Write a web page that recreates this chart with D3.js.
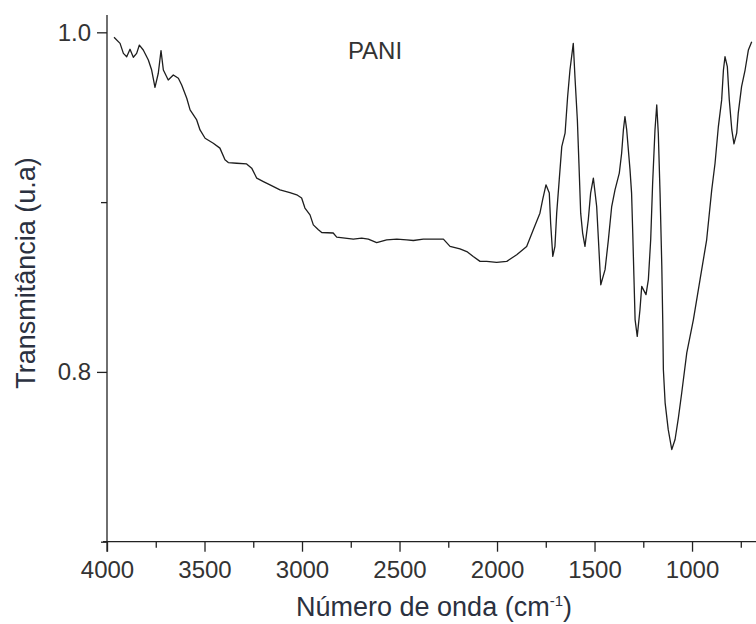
<!DOCTYPE html>
<html>
<head>
<meta charset="utf-8">
<script src="https://cdn.jsdelivr.net/npm/d3@7/dist/d3.min.js"></script>
<style>
  html, body { margin: 0; padding: 0; background: #fff; }
  svg { display: block; }
  text { font-family: "Liberation Sans", Arial, sans-serif; }
</style>
</head>
<body>
<svg id="chart" width="756" height="624"></svg>
<script>
// Wavenumber (cm^-1)
const wavenumber = [3964,3933,3916,3899,3882,3865,3848,3834,3814,3788,3771,3754,3737,3723,3711,3686,3660,3634,3617,3591,3574,3540,3523,3497,3455,3421,3395,3378,3335,3284,3258,3232,3198,3164,3113,3062,3027,3002,2985,2959,2942,2916,2899,2840,2822,2737,2694,2660,2617,2566,2514,2463,2429,2378,2275,2241,2190,2155,2122,2087,2053,2002,1950,1899,1848,1814,1780,1766,1749,1732,1725,1714,1703,1694,1681,1668,1651,1638,1626,1609,1600,1588,1580,1571,1561,1549,1532,1520,1506,1489,1480,1468,1446,1429,1412,1395,1373,1361,1352,1344,1335,1318,1310,1304,1298,1292,1281,1267,1258,1236,1224,1212,1202,1190,1181,1173,1164,1155,1150,1147,1138,1122,1104,1087,1070,1053,1027,993,959,925,899,882,865,848,839,831,819,809,796,785,771,763,746,728,711,694];
// Transmittance (u.a)
const transmittance = [0.9971,0.9935,0.9876,0.9856,0.9900,0.9853,0.9876,0.9925,0.9896,0.9837,0.9778,0.9676,0.9759,0.9892,0.9778,0.9719,0.9749,0.9729,0.9690,0.9612,0.9543,0.9484,0.9425,0.9376,0.9347,0.9318,0.9249,0.9233,0.9229,0.9225,0.9200,0.9141,0.9121,0.9102,0.9072,0.9056,0.9043,0.9024,0.8965,0.8925,0.8866,0.8837,0.8821,0.8818,0.8794,0.8782,0.8788,0.8782,0.8762,0.8778,0.8782,0.8778,0.8774,0.8782,0.8782,0.8739,0.8724,0.8709,0.8680,0.8651,0.8651,0.8645,0.8651,0.8690,0.8739,0.8837,0.8935,0.9014,0.9102,0.9053,0.8876,0.8680,0.8739,0.8935,0.9131,0.9327,0.9406,0.9621,0.9778,0.9935,0.9729,0.9484,0.9229,0.8935,0.8818,0.8739,0.8896,0.9053,0.9141,0.8974,0.8778,0.8513,0.8602,0.8778,0.8974,0.9072,0.9171,0.9288,0.9425,0.9504,0.9425,0.9190,0.9053,0.8818,0.8562,0.8308,0.8209,0.8366,0.8504,0.8455,0.8543,0.8778,0.9112,0.9425,0.9572,0.9406,0.9053,0.8621,0.8288,0.8014,0.7818,0.7660,0.7543,0.7602,0.7729,0.7876,0.8112,0.8308,0.8543,0.8778,0.9072,0.9229,0.9445,0.9602,0.9778,0.9856,0.9798,0.9602,0.9425,0.9343,0.9406,0.9524,0.9680,0.9778,0.9896,0.9945];

const xMajorTicks = [4000,3500,3000,2500,2000,1500,1000];
const xMinorTicks = [3750,3250,2750,2250,1750,1250,750];
const yMajorTicks = [1.0,0.8];
const yMinorTicks = [0.9,0.7];
const seriesLabel = "PANI";
const xTitle = "Número de onda (cm";
const xTitleSup = "-1";
const yTitle = "Transmitância (u.a)";

const svg = d3.select("#chart");
const x = d3.scaleLinear().domain([4000, 672]).range([107, 756]);
const y = d3.scaleLinear().domain([0.7, 1.0102]).range([541.7, 15]);

const axisColor = "#222";
const textColor = "#333";

// x axis
const gx = svg.append("g").attr("transform", `translate(0,${y(0.7)})`);
gx.call(d3.axisBottom(x).tickValues(xMajorTicks).tickSize(10).tickPadding(9).tickFormat(d3.format("d")));
gx.select(".domain").remove();
const gxm = svg.append("g").attr("transform", `translate(0,${y(0.7)})`);
gxm.call(d3.axisBottom(x).tickValues(xMinorTicks).tickSize(6).tickFormat(""));
gxm.select(".domain").remove();
svg.append("line").attr("x1", 103).attr("x2", 756).attr("y1", y(0.7)).attr("y2", y(0.7))
   .attr("stroke", axisColor).attr("stroke-width", 1.3);

// y axis
const gy = svg.append("g").attr("transform", `translate(${x(4000)},0)`);
gy.call(d3.axisLeft(y).tickValues(yMajorTicks).tickSize(10).tickPadding(6).tickFormat(d3.format(".1f")));
gy.select(".domain").remove();
const gym = svg.append("g").attr("transform", `translate(${x(4000)},0)`);
gym.call(d3.axisLeft(y).tickValues(yMinorTicks).tickSize(6).tickFormat(""));
gym.select(".domain").remove();
svg.append("line").attr("x1", x(4000)).attr("x2", x(4000)).attr("y1", 15).attr("y2", y(0.7) + 10)
   .attr("stroke", axisColor).attr("stroke-width", 1.3);

svg.selectAll(".tick line").attr("stroke", axisColor).attr("stroke-width", 1.3);
svg.selectAll(".tick text").attr("fill", textColor).style("font-size", "24px");

// spectrum
const pts = wavenumber.map((w, i) => [w, transmittance[i]]);
svg.append("path")
  .datum(pts)
  .attr("fill", "none")
  .attr("stroke", "#1e1e1e")
  .attr("stroke-width", 1.3)
  .attr("stroke-linejoin", "round")
  .attr("d", d3.line().x(d => x(d[0])).y(d => y(d[1])));

// labels
svg.append("text").attr("x", 375).attr("y", 59).attr("text-anchor", "middle")
  .attr("fill", textColor).style("font-size", "24px").text(seriesLabel);

const xt = svg.append("text").attr("x", 434).attr("y", 616).attr("text-anchor", "middle")
  .attr("fill", "#2b3140").style("font-size", "27px");
xt.append("tspan").text(xTitle);
xt.append("tspan").attr("dy", -10).style("font-size", "15px").text(xTitleSup);
xt.append("tspan").attr("dy", 10).text(")");

svg.append("text").attr("transform", "translate(35,273) rotate(-90)").attr("text-anchor", "middle")
  .attr("fill", "#2b3140").style("font-size", "27px").text(yTitle);
</script>
</body>
</html>
